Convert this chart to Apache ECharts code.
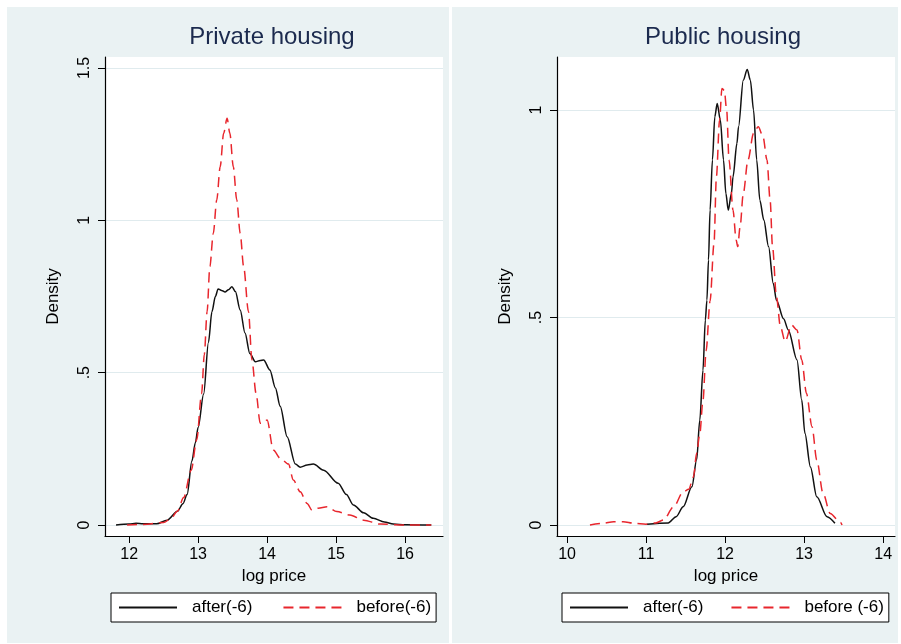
<!DOCTYPE html>
<html>
<head>
<meta charset="utf-8">
<script src="https://cdn.jsdelivr.net/npm/echarts@6/dist/echarts.min.js"></script>
<style>
    html, body { margin: 0; padding: 0; background: #fff; }
    #main { width: 901px; height: 644px; }
</style>
</head>
<body>
<div id="main"></div>
<script>
    // 数据 (x = log price, y = density)
    var privateAfter = [
        [11.81,0],[12.0,0.003],[12.1,0.006],[12.2,0.004],[12.4,0.004],[12.55,0.016],[12.7,0.045],
        [12.78,0.07],[12.84,0.1],[12.91,0.21],[12.96,0.27],[13.0,0.32],[13.08,0.43],[13.15,0.6],
        [13.2,0.7],[13.25,0.75],[13.29,0.775],[13.34,0.77],[13.39,0.765],[13.44,0.772],[13.49,0.782],
        [13.54,0.766],[13.61,0.706],[13.68,0.63],[13.75,0.563],[13.83,0.536],[13.9,0.54],[13.95,0.542],
        [14.04,0.509],[14.12,0.45],[14.19,0.39],[14.29,0.29],[14.41,0.2],[14.48,0.19],[14.58,0.197],
        [14.67,0.2],[14.82,0.18],[15.03,0.137],[15.15,0.1],[15.25,0.066],[15.4,0.04],[15.54,0.022],
        [15.7,0.01],[15.83,0.003],[16.0,0.001],[16.38,0]
    ];
    var privateBefore = [
        [11.97,0],[12.2,0.002],[12.5,0.008],[12.6,0.02],[12.7,0.045],[12.79,0.09],[12.9,0.18],
        [12.98,0.28],[13.05,0.43],[13.09,0.56],[13.13,0.7],[13.17,0.848],[13.22,0.957],[13.27,1.067],
        [13.32,1.176],[13.37,1.286],[13.42,1.335],[13.46,1.286],[13.51,1.176],[13.56,1.067],[13.61,0.957],
        [13.66,0.848],[13.73,0.7],[13.78,0.542],[13.84,0.432],[13.9,0.334],[13.95,0.335],[14.0,0.345],
        [14.09,0.246],[14.19,0.219],[14.31,0.2],[14.38,0.148],[14.48,0.109],[14.58,0.071],[14.65,0.049],
        [14.74,0.055],[14.87,0.06],[15.01,0.044],[15.2,0.033],[15.4,0.016],[15.64,0.003],[16.0,0],[16.38,0]
    ];
    var publicAfter = [
        [11.01,0.002],[11.28,0.005],[11.38,0.02],[11.47,0.044],[11.58,0.092],[11.64,0.157],[11.68,0.253],
        [11.72,0.373],[11.75,0.494],[11.77,0.542],[11.79,0.639],[11.81,0.759],[11.84,0.88],[11.87,0.984],
        [11.9,1.016],[11.94,0.976],[11.98,0.88],[12.01,0.799],[12.04,0.759],[12.08,0.799],[12.1,0.839],
        [12.15,0.92],[12.17,0.96],[12.23,1.072],[12.28,1.098],[12.32,1.072],[12.36,1.0],[12.4,0.88],
        [12.44,0.783],[12.49,0.735],[12.55,0.671],[12.61,0.582],[12.65,0.542],[12.74,0.497],[12.8,0.47],
        [12.91,0.398],[12.97,0.301],[13.01,0.221],[13.08,0.14],[13.16,0.068],[13.29,0.02],[13.39,0.004]
    ];
    var publicBefore = [
        [10.29,0],[10.45,0.004],[10.59,0.008],[10.71,0.008],[10.85,0.004],[11.0,0.002],[11.12,0.005],
        [11.22,0.012],[11.35,0.044],[11.47,0.08],[11.54,0.086],[11.6,0.116],[11.64,0.173],[11.68,0.22],
        [11.72,0.3],[11.76,0.42],[11.81,0.54],[11.86,0.679],[11.89,0.839],[11.93,0.976],[11.96,1.052],
        [11.99,1.048],[12.02,1.0],[12.05,0.88],[12.1,0.759],[12.14,0.687],[12.16,0.671],[12.19,0.719],
        [12.23,0.799],[12.29,0.88],[12.36,0.944],[12.42,0.96],[12.48,0.936],[12.53,0.88],[12.57,0.783],
        [12.6,0.671],[12.65,0.55],[12.7,0.478],[12.76,0.442],[12.84,0.482],[12.91,0.47],[12.97,0.398],
        [13.03,0.317],[13.1,0.237],[13.16,0.157],[13.24,0.076],[13.33,0.028],[13.46,0.006],[13.48,0]
    ];
    var privateXTicks = [12, 13, 14, 15, 16];
    var privateYTicks = [0, 0.5, 1, 1.5];
    var publicXTicks = [10, 11, 12, 13, 14];
    var publicYTicks = [0, 0.5, 1];
    var legendPrivate = ['after(-6)', 'before(-6)'];
    var legendPublic = ['after(-6)', 'before (-6)'];

    var FONT = 'Liberation Sans, Arial, sans-serif';
    var PANEL = '#eaf2f3';
    var GRIDLINE = '#e0ebee';

    function yFmt(v) {
        if (v === 0) return '0';
        return String(v).replace(/^0\./, '.');
    }

    function xAxisOpt(idx, min, max, ticks) {
        return {
            type: 'value', gridIndex: idx, min: min, max: max,
            name: 'log price', nameLocation: 'middle', nameGap: 29,
            nameTextStyle: { color: '#000', fontSize: 17, fontFamily: FONT },
            axisLine: { show: true, onZero: false, lineStyle: { color: '#000', width: 1.2 } },
            axisTick: { show: true, length: 7, customValues: ticks, lineStyle: { color: '#000' } },
            axisLabel: { customValues: ticks, margin: 11, color: '#000', fontSize: 16, fontFamily: FONT },
            splitLine: { show: false }
        };
    }
    function yAxisOpt(idx, min, max, ticks) {
        return {
            type: 'value', gridIndex: idx, min: min, max: max,
            name: 'Density', nameLocation: 'middle', nameGap: 43,
            nameTextStyle: { color: '#000', fontSize: 17, fontFamily: FONT },
            axisLine: { show: true, onZero: false, lineStyle: { color: '#000', width: 1.2 } },
            axisTick: { show: true, length: 7, customValues: ticks, lineStyle: { color: '#000' } },
            axisLabel: { customValues: ticks, rotate: 90, margin: 12, color: '#000', fontSize: 16,
                fontFamily: FONT, formatter: yFmt },
            splitLine: { show: true, lineStyle: { color: GRIDLINE, width: 1 } }
        };
    }
    function lineSeries(name, idx, data, dashed) {
        return {
            name: name, type: 'line', xAxisIndex: idx, yAxisIndex: idx,
            data: data, symbol: 'none', smooth: 0.3, smoothMonotone: 'x',
            lineStyle: dashed ? { color: '#e8262d', width: 1.5, type: [10, 6] }
                              : { color: '#111', width: 1.5 },
            itemStyle: { color: dashed ? '#e8262d' : '#111' },
            silent: true
        };
    }
    function legendOpt(left, names, gap) {
        return {
            left: left, top: 593, orient: 'horizontal',
            data: names, selectedMode: false,
            itemWidth: 58, itemHeight: 14, itemGap: gap,
            padding: [6, 5, 6, 7],
            itemStyle: { opacity: 0 },
            backgroundColor: '#fff', borderColor: '#000', borderWidth: 1,
            textStyle: { color: '#000', fontSize: 17, fontFamily: FONT, padding: [0, 0, 0, 10] }
        };
    }

    var myChart = echarts.init(document.getElementById('main'));
    var option = {
        backgroundColor: '#fff',
        animation: false,
        graphic: [
            { type: 'rect', z: -10, shape: { x: 7, y: 7, width: 442, height: 636 }, style: { fill: PANEL } },
            { type: 'rect', z: -10, shape: { x: 452, y: 7, width: 446, height: 636 }, style: { fill: PANEL } }
        ],
        title: [
            { text: 'Private housing', left: 267, top: 20, textAlign: 'center',
              textStyle: { color: '#1b2a4e', fontSize: 24, fontWeight: 'normal', fontFamily: FONT } },
            { text: 'Public housing', left: 718, top: 20, textAlign: 'center',
              textStyle: { color: '#1b2a4e', fontSize: 24, fontWeight: 'normal', fontFamily: FONT } }
        ],
        grid: [
            { left: 105, top: 57, width: 338, height: 479, show: true, backgroundColor: '#fff', borderWidth: 0 },
            { left: 557, top: 57, width: 338, height: 479, show: true, backgroundColor: '#fff', borderWidth: 0 }
        ],
        xAxis: [
            xAxisOpt(0, 11.65, 16.55, privateXTicks),
            xAxisOpt(1, 9.873, 14.15, publicXTicks)
        ],
        yAxis: [
            yAxisOpt(0, -0.036, 1.536, privateYTicks),
            yAxisOpt(1, -0.0265, 1.128, publicYTicks)
        ],
        legend: [
            legendOpt(111, legendPrivate, 30),
            legendOpt(562, legendPublic, 27)
        ],
        series: [
            lineSeries(legendPrivate[0], 0, privateAfter, false),
            lineSeries(legendPrivate[1], 0, privateBefore, true),
            lineSeries(legendPublic[0], 1, publicAfter, false),
            lineSeries(legendPublic[1], 1, publicBefore, true)
        ]
    };
    myChart.setOption(option);
</script>
</body>
</html>
